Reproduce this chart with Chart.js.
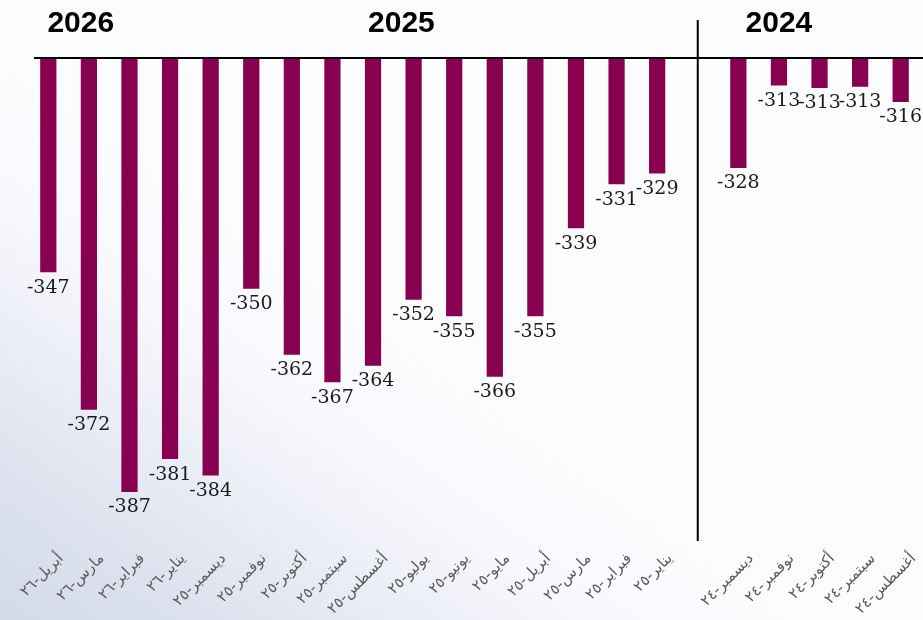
<!DOCTYPE html>
<html lang="ar">
<head>
<meta charset="utf-8">
<title>Chart</title>
<script src="https://cdn.jsdelivr.net/npm/chart.js@4.4.1/dist/chart.umd.min.js"></script>
<style>
    html, body { margin: 0; padding: 0; }
    .chart-wrap {
        position: relative;
        width: 923px;
        height: 620px;
        background: linear-gradient(35deg, #d4dae9 0%, #dde2ee 12%, #eceff6 24%, #f8f9fc 34%, #fbfcfe 45%, #fbfcfe 100%);
    }
</style>
</head>
<body>
<div class="chart-wrap">
    <canvas id="barChart"></canvas>
</div>
<script>
// Categories (empty slot separates 2025 and 2024)
const months = [
    'أبريل-٢٦', 'مارس-٢٦', 'فبراير-٢٦', 'يناير-٢٦',
    'ديسمبر-٢٥', 'نوفمبر-٢٥', 'أكتوبر-٢٥', 'سبتمبر-٢٥', 'أغسطس-٢٥', 'يوليو-٢٥',
    'يونيو-٢٥', 'مايو-٢٥', 'أبريل-٢٥', 'مارس-٢٥', 'فبراير-٢٥', 'يناير-٢٥',
    '',
    'ديسمبر-٢٤', 'نوفمبر-٢٤', 'أكتوبر-٢٤', 'سبتمبر-٢٤', 'أغسطس-٢٤'
];

const values = [
    -347, -372, -387, -381,
    -384, -350, -362, -367, -364, -352,
    -355, -366, -355, -339, -331, -329,
    null,
    -328, -313.0, -313.45, -313.25, -316
];

// Year headings: text and the (fractional) category index they sit over
const yearLabels = ['2026', '2025', '2024'];
const yearPositions = [0.8, 8.7, 18.0];
const dividerIndex = 16;

const axisMax = -308;
const axisMin = -395;

const barColor = '#880050';

// Draws value labels, year headings, the top rule and the divider
const decorPlugin = {
    id: 'decor',
    afterDatasetsDraw(chart) {
        const ctx = chart.ctx;
        const area = chart.chartArea;
        const xScale = chart.scales.x;
        const yScale = chart.scales.y;
        const meta = chart.getDatasetMeta(0);

        ctx.save();

        // value labels under each bar
        ctx.font = '19px "DejaVu Serif"';
        ctx.fillStyle = '#1a1a1a';
        ctx.textAlign = 'center';
        ctx.textBaseline = 'top';
        meta.data.forEach((bar, i) => {
            const v = values[i];
            if (v === null || v === undefined) return;
            ctx.fillText(Math.round(v).toString(), bar.x, bar.y + 6);
        });

        // top axis rule
        const topY = yScale.getPixelForValue(axisMax);
        ctx.strokeStyle = '#000';
        ctx.lineWidth = 2;
        ctx.beginPath();
        ctx.moveTo(area.left + 6, topY);
        ctx.lineTo(chart.width, topY);
        ctx.stroke();

        // divider between 2025 and 2024
        const divX = xScale.getPixelForValue(dividerIndex);
        ctx.beginPath();
        ctx.moveTo(divX, 20);
        ctx.lineTo(divX, area.bottom + 5);
        ctx.stroke();

        // year headings
        ctx.font = 'bold 30px "Liberation Sans"';
        ctx.fillStyle = '#000';
        ctx.textBaseline = 'alphabetic';
        yearLabels.forEach((label, i) => {
            ctx.fillText(label, xScale.getPixelForValue(yearPositions[i]), topY - 26);
        });

        ctx.restore();
    }
};

document.addEventListener('DOMContentLoaded', () => {
    const ctx = document.getElementById('barChart').getContext('2d');

    new Chart(ctx, {
        type: 'bar',
        data: {
            labels: months,
            datasets: [{
                data: values,
                backgroundColor: barColor,
                borderWidth: 0,
                barPercentage: 0.8,
                categoryPercentage: 0.5
            }]
        },
        options: {
            responsive: true,
            maintainAspectRatio: false,
            animation: false,
            layout: {
                padding: { top: 58, left: 28, right: 2, bottom: 0 }
            },
            plugins: {
                legend: { display: false },
                tooltip: { enabled: false }
            },
            scales: {
                x: {
                    grid: { display: false, drawTicks: false },
                    border: { display: false },
                    ticks: {
                        color: '#5a5a5a',
                        font: { family: 'DejaVu Sans', size: 15 },
                        minRotation: 45,
                        maxRotation: 45,
                        autoSkip: false,
                        padding: 14,
                        labelOffset: 13
                    },
                    afterFit(scale) {
                        scale.height = 84;
                        // keep the rotated first label from pushing the plot inward
                        scale.paddingLeft = 0;
                        scale.paddingRight = 0;
                    }
                },
                y: {
                    display: false,
                    min: axisMin,
                    max: axisMax
                }
            }
        },
        plugins: [decorPlugin]
    });
});
</script>
</body>
</html>
